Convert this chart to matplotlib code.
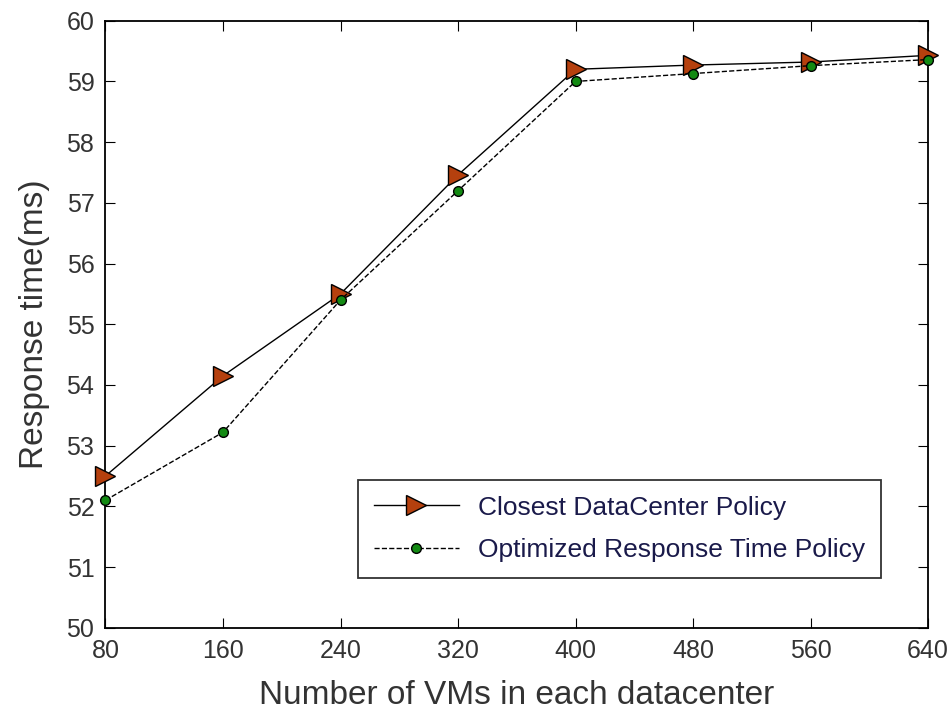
import numpy as np
from matplotlib import pyplot as plt

plt.rcParams['font.family'] = ['Liberation Sans', 'DejaVu Sans']

vms = [80, 160, 240, 320, 400, 480, 560, 640]
closest = [52.5, 54.15, 55.5, 57.46, 59.2, 59.27, 59.32, 59.43]
optimized = [52.1, 53.22, 55.4, 57.2, 59.0, 59.13, 59.26, 59.36]

fig = plt.figure(figsize=(9.5, 7.15), dpi=100)
ax = fig.add_axes([0.111, 0.122, 0.866, 0.849])

ax.plot(vms, closest, color='black', linewidth=1.0, marker='>',
        markersize=14, markerfacecolor='#b5400e', markeredgecolor='black',
        label='Closest DataCenter Policy', clip_on=False, zorder=3)
ax.plot(vms, optimized, color='black', linewidth=1.0, linestyle='--',
        marker='o', markersize=7, markerfacecolor='#138a13',
        markeredgecolor='black', label='Optimized Response Time Policy',
        clip_on=False, zorder=4)

ax.set_xlim(80, 640)
ax.set_ylim(50, 60)
ax.set_xticks(vms)
ax.set_yticks(np.arange(50, 61, 1))
ax.tick_params(direction='in', length=7, labelsize=18, top=True, right=True,
               labelcolor='#333333')
ax.tick_params(axis='x', pad=8)
ax.tick_params(axis='y', pad=8)
for s in ax.spines.values():
    s.set_linewidth(1.3)

ax.set_xlabel('Number of VMs in each datacenter', fontsize=24,
              color='#333333', labelpad=12)
ax.set_ylabel('Response time(ms)', fontsize=24, color='#333333', labelpad=12)

leg = ax.legend(loc='lower right', bbox_to_anchor=(0.943, 0.082),
                borderaxespad=0, fontsize=19,
                frameon=True, fancybox=False, edgecolor='black',
                borderpad=0.6, labelspacing=0.7, handlelength=3.2,
                handletextpad=0.75)
leg.get_frame().set_linewidth(1.3)
for t in leg.get_texts():
    t.set_color('#1a1a4a')

fig.savefig('out.png', dpi=100)
